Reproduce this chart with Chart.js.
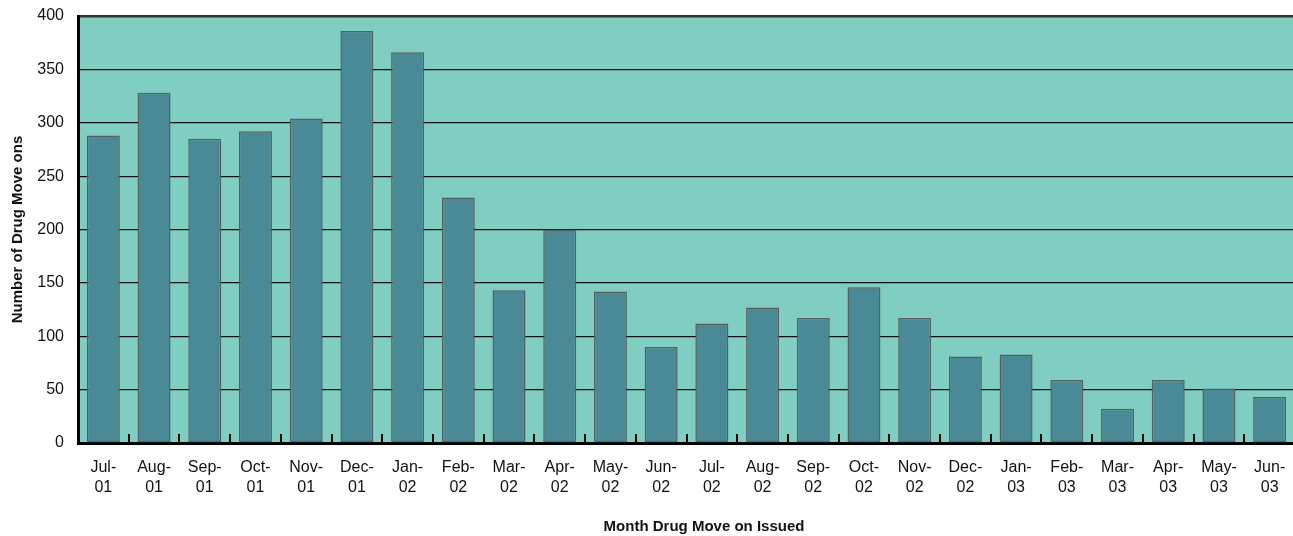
<!DOCTYPE html>
<html>
<head>
<meta charset="utf-8">
<script src="https://cdn.jsdelivr.net/npm/chart.js@4.4.1/dist/chart.umd.min.js"></script>
<style>
  html, body { margin:0; padding:0; background:#fff; overflow:hidden; }
  #wrap { position:relative; width:1295px; height:536px; }
  #xtitle {
    position:absolute; left:504px; width:400px; top:517px;
    text-align:center; font:bold 15px 'Liberation Sans Narrow','Liberation Sans',Arial,sans-serif; color:#111;
  }
</style>
</head>
<body>
<div id="wrap">
  <canvas id="chart"></canvas>
  <div id="xtitle">Month Drug Move on Issued</div>
</div>
<script>
// months, split into two label lines
const months = ['Jul-','Aug-','Sep-','Oct-','Nov-','Dec-','Jan-','Feb-','Mar-','Apr-','May-','Jun-',
                'Jul-','Aug-','Sep-','Oct-','Nov-','Dec-','Jan-','Feb-','Mar-','Apr-','May-','Jun-'];
const years  = ['01','01','01','01','01','01','02','02','02','02','02','02',
                '02','02','02','02','02','02','03','03','03','03','03','03'];
const moves  = [288, 328, 285, 292, 304, 386, 366, 230, 143, 200, 142, 90,
                112, 127, 117, 146, 117, 81, 83, 59, 32, 59, 51, 43];
const yTicks = [0, 50, 100, 150, 200, 250, 300, 350, 400];

const narrow = "'Liberation Sans Narrow','Liberation Sans',Arial,sans-serif";

// teal plot background
const plotBg = {
  id: 'plotBg',
  beforeDraw(chart) {
    const { ctx, chartArea: a } = chart;
    ctx.save();
    ctx.fillStyle = '#80cdc1';
    ctx.fillRect(a.left, a.top, a.right - a.left, a.bottom - a.top);
    ctx.restore();
  }
};

new Chart(document.getElementById('chart'), {
  type: 'bar',
  data: {
    labels: months.map((m, i) => [m, years[i]]),
    datasets: [{
      data: moves,
      backgroundColor: '#4a8a96',
      borderColor: '#55605f',
      borderWidth: 1.5,
      borderSkipped: false,
      barPercentage: 0.65,
      categoryPercentage: 1
    }]
  },
  options: {
    responsive: true, maintainAspectRatio: false, animation: false,
    layout: { padding: { top: 16, right: 0, left: 0, bottom: 0 } },
    plugins: { legend: { display: false }, tooltip: { enabled: false } },
    scales: {
      x: {
        afterFit: s => { s.height = 93; s.paddingLeft = 0; s.paddingRight = 0; },
        grid: { offset: true, drawOnChartArea: false, drawTicks: true, tickLength: -9, color: '#000', lineWidth: 2 },
        border: { color: '#000', width: 3 },
        ticks: { color: '#111', padding: 23, autoSkip: false, maxRotation: 0,
                 font: { family: narrow, size: 16, lineHeight: 1.28 } }
      },
      y: {
        min: 0, max: 400,
        afterFit: s => { s.width = 78; s.paddingTop = 0; s.paddingBottom = 0; },
        afterBuildTicks: s => { s.ticks = yTicks.map(v => ({ value: v })); },
        grid: {
          drawTicks: false,
          color: c => c.tick.value === 400 ? '#333' : '#111',
          lineWidth: c => c.tick.value === 400 ? 2.5 : 1.2
        },
        border: { color: '#000', width: 3 },
        ticks: { color: '#111', padding: 14, font: { family: narrow, size: 16 } },
        title: {
          display: true, text: 'Number of Drug Move ons', color: '#111',
          padding: { top: 9, bottom: 0 },
          font: { family: narrow, size: 15, weight: 'bold' }
        }
      }
    }
  },
  plugins: [plotBg]
});
</script>
</body>
</html>
